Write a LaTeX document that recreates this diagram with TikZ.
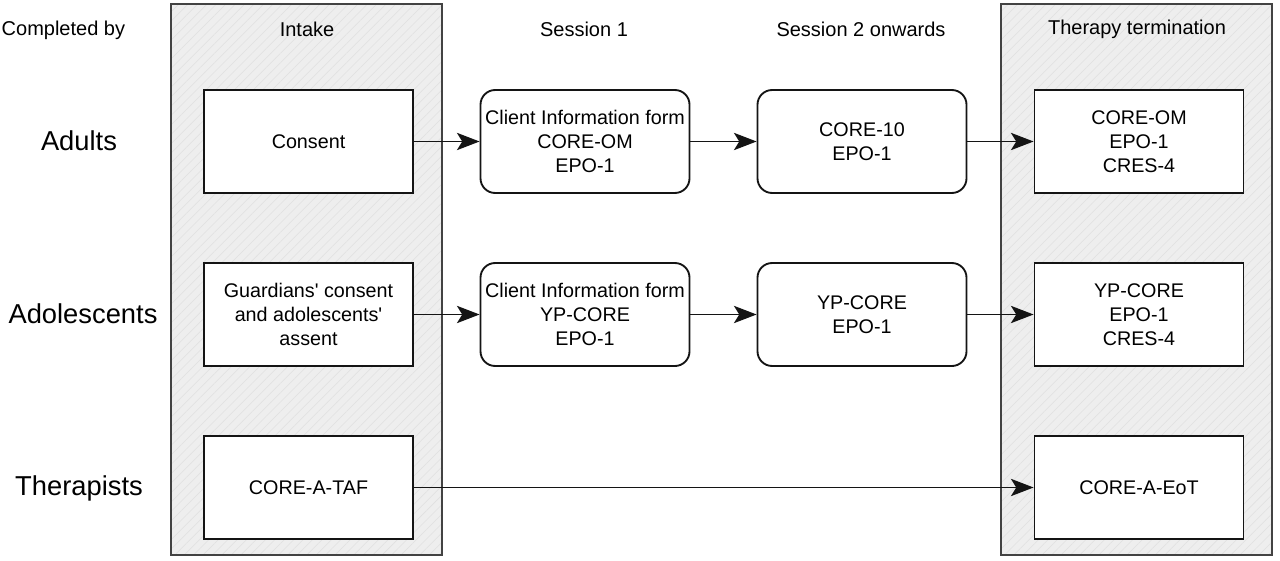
\documentclass[tikz,border=0pt]{standalone}
\usepackage{fontspec}
\setmainfont{Liberation Sans}
\usepackage{xcolor}
\usepackage{tikz}
\usetikzlibrary{
  arrows.meta,
  positioning,
  patterns.meta
}
\definecolor{PanelGray}{RGB}{238, 238, 238}
\definecolor{HatchGray}{RGB}{224, 224, 224}
\definecolor{LineDark}{RGB}{20, 20, 20}
\tikzset{
    phase/.style={draw=LineDark!80, line width=1pt, preaction={fill=PanelGray},
        pattern={Lines[angle=45, distance=5pt, line width=0.4pt]}, pattern color=HatchGray},
    plainbox/.style={rectangle, draw=LineDark, line width=1.4pt, fill=white,
        minimum width=156.75pt, minimum height=77.25pt, align=center,
        font=\fontsize{14.8}{18}\selectfont},
    roundbox/.style={plainbox, rounded corners=11pt},
    header/.style={font=\fontsize{15}{18}\selectfont},
    rowlabel/.style={font=\fontsize{20.5}{24}\selectfont},
    flow/.style={-{Stealth[length=17pt, width=13pt, inset=4pt]}, line width=1.2pt, draw=LineDark}
}

\begin{document}
\begin{tikzpicture}[x=0.75pt, y=-0.75pt]
    \useasboundingbox (0,0) rectangle (1280,560);

    % phase panels
    \draw[phase] (171,4) rectangle (442,555);
    \draw[phase] (1001,4) rectangle (1272,555);

    % column headers
    \node[header, anchor=west] (completed) at (-3,30) {Completed by};
    \node[header] (hintake) at (307,29) {Intake};
    \node[header] (hsess1) at (584,29) {Session 1};
    \node[header] (hsess2) at (861,29) {Session 2 onwards};
    \node[header] (hterm) at (1137,29) {Therapy termination};

    % row labels
    \node[rowlabel] (adults) at (79,141) {Adults};
    \node[rowlabel] (adolescents) at (83,314) {Adolescents};
    \node[rowlabel] (therapists) at (79,488) {Therapists};

    % adults
    \node[plainbox] (consent) at (308.5,141.5) {Consent};
    \node[roundbox] (adsone) at (585,141.5) {Client Information form\\CORE-OM\\EPO-1};
    \node[roundbox] (adstwo) at (862,141.5) {CORE-10\\EPO-1};
    \node[plainbox] (adend) at (1139,141.5) {CORE-OM\\EPO-1\\CRES-4};

    % adolescents
    \node[plainbox] (assent) at (308.5,314.5) {Guardians\textquotesingle\ consent\\and adolescents\textquotesingle\\assent};
    \node[roundbox] (yposone) at (585,314.5) {Client Information form\\YP-CORE\\EPO-1};
    \node[roundbox] (ypstwo) at (862,314.5) {YP-CORE\\EPO-1};
    \node[plainbox] (ypend) at (1139,314.5) {YP-CORE\\EPO-1\\CRES-4};

    % therapists
    \node[plainbox] (taf) at (308.5,487.5) {CORE-A-TAF};
    \node[plainbox] (eot) at (1139,487.5) {CORE-A-EoT};

    % connectors
    \draw[flow] (consent) -- (adsone);
    \draw[flow] (adsone) -- (adstwo);
    \draw[flow] (adstwo) -- (adend);
    \draw[flow] (assent) -- (yposone);
    \draw[flow] (yposone) -- (ypstwo);
    \draw[flow] (ypstwo) -- (ypend);
    \draw[flow] (taf) -- (eot);
\end{tikzpicture}
\end{document}
